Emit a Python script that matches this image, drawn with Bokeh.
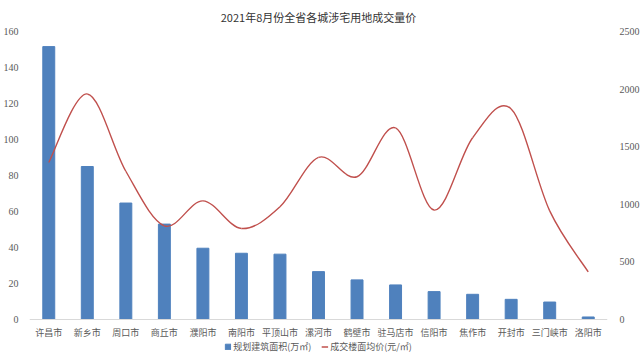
from bokeh.plotting import figure
from bokeh.models import Range1d, LinearAxis, FixedTicker, Legend, LegendItem, Span
from bokeh.core.properties import value
from bokeh.embed import file_html
from bokeh.resources import INLINE

cities = ["许昌市", "新乡市", "周口市", "商丘市", "濮阳市", "南阳市", "平顶山市", "漯河市",
          "鹤壁市", "驻马店市", "信阳市", "焦作市", "开封市", "三门峡市", "洛阳市"]
area = [151.6, 85.0, 64.7, 53.0, 39.6, 36.8, 36.3, 26.6, 22.0, 19.2, 15.5, 14.0, 11.2, 9.7, 1.4]
price = [1363, 1958, 1287, 813, 1030, 790, 978, 1407, 1239, 1663, 950, 1578, 1828, 943, 413]
left_ticks = [0, 20, 40, 60, 80, 100, 120, 140, 160]
right_ticks = [0, 500, 1000, 1500, 2000, 2500]
title_text = "2021年8月份全省各城涉宅用地成交量价"
area_label = "规划建筑面积(万㎡)"
price_label = "成交楼面均价(元/㎡)"

idx = list(range(len(cities)))
LMAX, RMAX = 160, 2500
PLOT_PX, BELOW_PX = 288, 34
ext = LMAX * BELOW_PX / PLOT_PX

p = figure(frame_width=578, frame_height=PLOT_PX + BELOW_PX,
           x_range=Range1d(-0.5, len(cities) - 0.5),
           y_range=Range1d(-ext, LMAX), output_backend="svg", toolbar_location=None,
           min_border_left=19, min_border_right=24, min_border_top=23, min_border_bottom=0)
p.title.text = title_text
p.title.align = "center"
p.title.text_font = "Noto Sans CJK SC"
p.title.text_font_size = "11px"
p.title.text_font_style = "normal"
p.title.text_color = "#333333"
p.title.standoff = 13
p.outline_line_color = None
p.xgrid.visible = False
p.ygrid.visible = False
p.xaxis.visible = False
p.background_fill_color = "white"
p.border_fill_color = "white"

p.extra_y_ranges = {"price": Range1d(-ext * RMAX / LMAX, RMAX)}

bars = p.vbar(x=idx, top=area, width=0.31, fill_color="#4F81BD", line_color="#4F81BD")

n = len(price)
ext_x = [idx[0]] + idx + [idx[-1]]
ext_y = [price[0]] + price + [price[-1]]
x0, y0, x1, y1, cx0, cy0, cx1, cy1 = [], [], [], [], [], [], [], []
for i in range(n - 1):
    j = i + 1
    x0.append(idx[i]); y0.append(price[i])
    x1.append(idx[i + 1]); y1.append(price[i + 1])
    cx0.append(ext_x[j] + (ext_x[j + 1] - ext_x[j - 1]) / 6.0)
    cy0.append(ext_y[j] + (ext_y[j + 1] - ext_y[j - 1]) / 6.0)
    cx1.append(ext_x[j + 1] - (ext_x[j + 2] - ext_x[j]) / 6.0)
    cy1.append(ext_y[j + 1] - (ext_y[j + 2] - ext_y[j]) / 6.0)
curve = p.bezier(x0=x0, y0=y0, x1=x1, y1=y1, cx0=cx0, cy0=cy0, cx1=cx1, cy1=cy1,
                 line_color="#C0504D", line_width=1.4, y_range_name="price")

p.add_layout(Span(location=0, dimension="width", line_color="#D9D9D9", line_width=1))
p.text(x=idx, y=[0] * len(idx), text=cities, text_align="center", text_baseline="middle",
       y_offset=13, text_font=value("Noto Sans CJK SC"), text_font_size="9px",
       text_color="#595959")

ya = p.yaxis[0]
ya.ticker = FixedTicker(ticks=left_ticks)
ya.axis_line_color = None
ya.major_tick_line_color = None
ya.minor_tick_line_color = None
ya.major_label_text_font = "Liberation Serif"
ya.major_label_text_font_size = "10px"
ya.major_label_text_color = "#595959"
ya.major_label_standoff = 5

ra = LinearAxis(y_range_name="price", ticker=FixedTicker(ticks=right_ticks))
ra.axis_line_color = None
ra.major_tick_line_color = None
ra.minor_tick_line_color = None
ra.major_label_text_font = "Liberation Serif"
ra.major_label_text_font_size = "10px"
ra.major_label_text_color = "#595959"
ra.major_label_standoff = 6
p.add_layout(ra, "right")

legend = Legend(items=[LegendItem(label=area_label, renderers=[bars]),
                       LegendItem(label=price_label, renderers=[curve])],
                orientation="horizontal", location="bottom_center")
legend.border_line_color = None
legend.background_fill_alpha = 0
legend.label_text_font = "Noto Sans CJK SC"
legend.label_text_font_size = "9px"
legend.label_text_color = "#595959"
legend.glyph_width = 7
legend.glyph_height = 7
legend.label_height = 10
legend.label_standoff = 2
legend.spacing = 10
legend.padding = 0
legend.margin = 0
p.add_layout(legend, "center")

open("out.html", "w").write(file_html(p, INLINE))
